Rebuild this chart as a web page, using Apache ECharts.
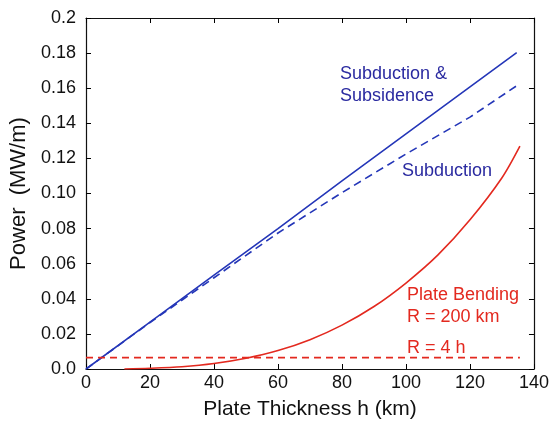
<!DOCTYPE html>
<html>
<head>
<meta charset="utf-8">
<script src="https://cdn.jsdelivr.net/npm/echarts@6/dist/echarts.min.js"></script>
<style>
html, body { margin: 0; padding: 0; background: #fff; }
#chart { width: 552px; height: 425px; }
</style>
</head>
<body>
<div id="chart"></div>
<script>
// plate thickness h (km) and power (MW/m)
var hLine = [0, 20, 40, 60, 80, 100, 120, 134.6];
var subSubs = [0, 0.0267, 0.0535, 0.080, 0.1072, 0.1340, 0.1607, 0.1803];
var subOnly = [0, 0.0265, 0.052, 0.0775, 0.1005, 0.1225, 0.1435, 0.1614];

var hBend = [12, 20, 30, 40, 50, 60, 70, 80, 90, 100, 110, 120, 130, 135.6];
var bend200 = [0, 0.0004, 0.0013, 0.0031, 0.0061, 0.0105, 0.0167, 0.025, 0.0356, 0.049, 0.065, 0.085, 0.109, 0.127];

var hFlat = [0, 135.6];
var bend4h = [0.0065, 0.0065];

var blue = '#2436b8', blueText = '#2a2aa0', red = '#e3291f';
var font = 'Liberation Sans, Arial, Helvetica, sans-serif';

var pairs = function (xs, ys) {
    var res = [];
    for (var i = 0; i < xs.length; i++) res.push([xs[i], ys[i]]);
    return res;
};

var myChart = echarts.init(document.getElementById('chart'));

// frame on all four sides, ticks pointing inwards
var tickStyle = { show: true, inside: true, length: 5, lineStyle: { color: '#000', width: 1 } };
var lineStyle = { show: true, onZero: false, lineStyle: { color: '#111', width: 1.2 } };

myChart.setOption({
    animation: false,
    backgroundColor: '#fff',
    grid: { left: 86, right: 15, top: 18, bottom: 54 },
    xAxis: [
        {
            type: 'value', min: 0, max: 140, interval: 20, position: 'bottom',
            name: 'Plate Thickness h (km)', nameLocation: 'middle', nameGap: 30,
            nameTextStyle: { fontFamily: font, fontSize: 21, color: '#111' },
            axisLine: lineStyle, axisTick: tickStyle, splitLine: { show: false },
            axisLabel: { fontFamily: font, fontSize: 18, color: '#111', margin: 5 }
        },
        {
            type: 'value', min: 0, max: 140, interval: 20, position: 'top',
            axisLine: lineStyle, axisTick: tickStyle, splitLine: { show: false },
            axisLabel: { show: false }
        }
    ],
    yAxis: [
        {
            type: 'value', min: 0, max: 0.2, interval: 0.02, position: 'left',
            name: 'Power  (MW/m)', nameLocation: 'middle', nameGap: 56,
            nameTextStyle: { fontFamily: font, fontSize: 22, color: '#111' },
            axisLine: lineStyle, axisTick: tickStyle, splitLine: { show: false },
            axisLabel: {
                fontFamily: font, fontSize: 18, color: '#111', margin: 10,
                formatter: function (v) {
                    var r = Math.round(v * 100) / 100;
                    if (r === 0) return '0.0';
                    if (r === 0.2) return '0.2';
                    return r.toFixed(2);
                }
            }
        },
        {
            type: 'value', min: 0, max: 0.2, interval: 0.02, position: 'right',
            axisLine: lineStyle, axisTick: tickStyle, splitLine: { show: false },
            axisLabel: { show: false }
        }
    ],
    series: [
        {
            name: 'Subduction & Subsidence', type: 'line', showSymbol: false,
            data: pairs(hLine, subSubs),
            lineStyle: { color: blue, width: 1.6 }
        },
        {
            name: 'Subduction', type: 'line', showSymbol: false,
            data: pairs(hLine, subOnly),
            lineStyle: { color: blue, width: 1.6, type: [8, 5] }
        },
        {
            name: 'R = 200 km', type: 'line', showSymbol: false, smooth: 0.3,
            data: pairs(hBend, bend200),
            lineStyle: { color: red, width: 1.6 }
        },
        {
            name: 'R = 4 h', type: 'line', showSymbol: false,
            data: pairs(hFlat, bend4h),
            lineStyle: { color: red, width: 1.6, type: [7, 5] }
        },
        { type: 'line', xAxisIndex: 1, yAxisIndex: 1, data: [], silent: true }
    ],
    graphic: [
        { type: 'text', left: 340, top: 65, style: { text: 'Subduction &', fill: blueText, font: '18px ' + font } },
        { type: 'text', left: 340, top: 87, style: { text: 'Subsidence', fill: blueText, font: '18px ' + font } },
        { type: 'text', left: 402, top: 162, style: { text: 'Subduction', fill: blueText, font: '18px ' + font } },
        { type: 'text', left: 407, top: 286, style: { text: 'Plate Bending', fill: red, font: '18px ' + font } },
        { type: 'text', left: 407, top: 308, style: { text: 'R = 200 km', fill: red, font: '18px ' + font } },
        { type: 'text', left: 407, top: 339, style: { text: 'R = 4 h', fill: red, font: '18px ' + font } }
    ]
});
</script>
</body>
</html>
